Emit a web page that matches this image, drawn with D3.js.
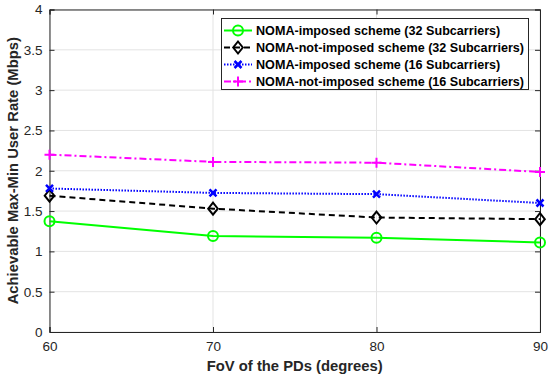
<!DOCTYPE html>
<html>
<head>
<meta charset="utf-8">
<script src="https://cdn.jsdelivr.net/npm/d3@7"></script>
<style>
  body { margin: 0; background: #fff; }
  svg text { font-family: "Liberation Sans", Arial, sans-serif; }
</style>
</head>
<body>
<div id="chart"></div>
<script>
// data
const fov = [60, 70, 80, 90];
const yTicks = [0, 0.5, 1, 1.5, 2, 2.5, 3, 3.5, 4];
const imposed32 = [1.375, 1.19, 1.17, 1.11];
const notImposed32 = [1.69, 1.53, 1.42, 1.40];
const imposed16 = [1.78, 1.725, 1.71, 1.60];
const notImposed16 = [2.20, 2.11, 2.10, 1.985];
const seriesNames = [
  "NOMA-imposed scheme (32 Subcarriers)",
  "NOMA-not-imposed scheme (32 Subcarriers)",
  "NOMA-imposed scheme (16 Subcarriers)",
  "NOMA-not-imposed scheme (16 Subcarriers)"
];

const W = 550, H = 377;
const pLeft = 49.5, pRight = 540, pTop = 9.5, pBottom = 332;

const svg = d3.select("#chart").append("svg")
  .attr("width", W).attr("height", H);

const x = d3.scaleLinear().domain([60, 90]).range([pLeft, pRight]);
const y = d3.scaleLinear().domain([0, 4]).range([pBottom, pTop]);

// grid
const grid = svg.append("g");
grid.selectAll(".gx").data(fov).enter().append("line")
  .attr("x1", d => x(d)).attr("x2", d => x(d))
  .attr("y1", pTop).attr("y2", pBottom)
  .attr("stroke", "#e3e3e3").attr("stroke-width", 1);
grid.selectAll(".gy").data(yTicks).enter().append("line")
  .attr("x1", pLeft).attr("x2", pRight)
  .attr("y1", d => y(d)).attr("y2", d => y(d))
  .attr("stroke", "#e3e3e3").attr("stroke-width", 1);

// axes
const tickCol = "#262626";
svg.append("g").attr("transform", `translate(0,${pBottom})`)
  .call(d3.axisBottom(x).tickValues(fov).tickSize(-5).tickPadding(9).tickFormat(d3.format("d")));
svg.append("g").attr("transform", `translate(${pLeft},0)`)
  .call(d3.axisLeft(y).tickValues(yTicks).tickSize(-5).tickPadding(7).tickFormat(d => d));
svg.append("g").attr("transform", `translate(0,${pTop})`)
  .call(d3.axisTop(x).tickValues(fov).tickSize(-5).tickFormat(""));
svg.append("g").attr("transform", `translate(${pRight},0)`)
  .call(d3.axisRight(y).tickValues(yTicks).tickSize(-5).tickFormat(""));
svg.selectAll(".domain").attr("stroke", tickCol);
svg.selectAll(".tick line").attr("stroke", tickCol);
svg.selectAll(".tick text").attr("fill", tickCol).style("font-size", "13.5px");

// labels
svg.append("text").attr("x", (pLeft + pRight) / 2).attr("y", 371)
  .attr("text-anchor", "middle").style("font-size", "14.8px").style("font-weight", "bold")
  .attr("fill", "#262626").text("FoV of the PDs (degrees)");
svg.append("text").attr("transform", `translate(18,${(pTop + pBottom) / 2}) rotate(-90)`)
  .attr("text-anchor", "middle").style("font-size", "14.8px").style("font-weight", "bold")
  .attr("fill", "#262626").text("Achievable Max-Min User Rate (Mbps)");

// series
const series = [
  { vals: imposed32, color: "#00ff00", dash: null, marker: "circle" },
  { vals: notImposed32, color: "#000000", dash: "6,4", marker: "diamond" },
  { vals: imposed16, color: "#0000ff", dash: "1.5,1.5", marker: "x" },
  { vals: notImposed16, color: "#ff00ff", dash: "7,3,2,3", marker: "plus" }
];

const line = d3.line().x(d => x(d.x)).y(d => y(d.y));

function drawMarker(g, type, color, cx, cy) {
  if (type === "circle") {
    g.append("circle").attr("cx", cx).attr("cy", cy).attr("r", 5)
      .attr("fill", "none").attr("stroke", color).attr("stroke-width", 2);
  } else if (type === "diamond") {
    const s = 6;
    g.append("path").attr("d", `M${cx},${cy - s}L${cx + s * 0.8},${cy}L${cx},${cy + s}L${cx - s * 0.8},${cy}Z`)
      .attr("fill", "none").attr("stroke", color).attr("stroke-width", 2);
  } else if (type === "x") {
    const s = 3.5;
    g.append("path").attr("d", `M${cx - s},${cy - s}L${cx + s},${cy + s}M${cx - s},${cy + s}L${cx + s},${cy - s}`)
      .attr("stroke", color).attr("stroke-width", 2.5);
  } else if (type === "plus") {
    const s = 5;
    g.append("path").attr("d", `M${cx - s},${cy}L${cx + s},${cy}M${cx},${cy - s}L${cx},${cy + s}`)
      .attr("stroke", color).attr("stroke-width", 2);
  }
}

series.forEach(s => {
  const pts = fov.map((f, i) => ({ x: f, y: s.vals[i] }));
  const g = svg.append("g");
  g.append("path").datum(pts).attr("d", line)
    .attr("fill", "none").attr("stroke", s.color).attr("stroke-width", 2)
    .attr("stroke-dasharray", s.dash);
  pts.forEach(p => drawMarker(g, s.marker, s.color, x(p.x), y(p.y)));
});

// legend
const lg = svg.append("g");
lg.append("rect").attr("x", 221.5).attr("y", 18.5).attr("width", 307).attr("height", 71)
  .attr("fill", "#fff").attr("stroke", "#262626").attr("stroke-width", 1);
series.forEach((s, i) => {
  const ly = 30.5 + i * 17;
  lg.append("line").attr("x1", 224).attr("x2", 252).attr("y1", ly).attr("y2", ly)
    .attr("stroke", s.color).attr("stroke-width", 2).attr("stroke-dasharray", s.dash);
  drawMarker(lg, s.marker, s.color, 238, ly);
  lg.append("text").attr("x", 256).attr("y", ly + 4.5)
    .style("font-size", "12.6px").style("font-weight", "bold").attr("fill", "#000")
    .text(seriesNames[i]);
});
</script>
</body>
</html>
